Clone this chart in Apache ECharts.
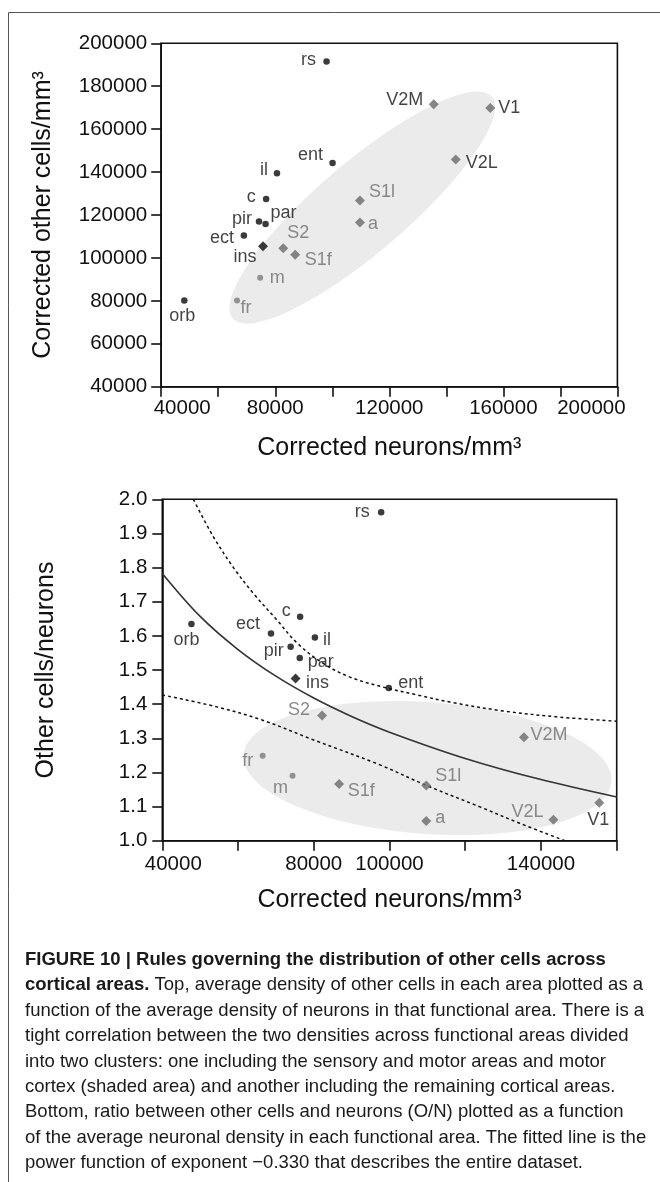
<!DOCTYPE html>
<html><head><meta charset="utf-8">
<script src="https://cdn.jsdelivr.net/npm/echarts@6/dist/echarts.min.js"></script>
<style>html,body{margin:0;padding:0;background:#fff;} #chart{width:660px;height:1182px;}</style>
</head><body><div id="chart"></div>
<script>
// ---------- data ----------
const areas = ['rs','V2M','V1','V2L','ent','il','c','S1l','a','pir','par','ect','ins','S2','S1f','m','fr','orb'];
// top panel: corrected neurons/mm3 vs corrected other cells/mm3
const topNeurons = [98000,135600,155400,143300,100100,80600,76800,109700,109700,74300,76600,69000,75700,82800,87000,74700,66600,48100];
const topOthers  = [191500,171600,169800,145900,144200,139400,127400,126800,116500,117000,115800,110400,105400,104500,101500,90800,80200,80200];
// bottom panel: corrected neurons/mm3 vs other cells/neurons
const bottomNeurons = [97800,135500,155400,143300,99800,80300,76400,109700,109700,73900,76300,68700,75200,82200,86700,74400,66500,47700];
const bottomRatio   = [1.962,1.303,1.111,1.061,1.447,1.595,1.656,1.162,1.058,1.568,1.535,1.607,1.475,1.367,1.166,1.190,1.249,1.635];
// fitted power curve (solid)
const fitX = [40000,50000,60000,70000,80000,90000,100000,120000,140000,160000];
const fitY = [1.783,1.657,1.560,1.482,1.418,1.364,1.318,1.241,1.179,1.128];
// upper dashed curve
const upperX = [48200,53500,58800,64000,70300,75600,82400,89600,98300,107300,116000,130000,145000,160000];
const upperY = [2.000,1.890,1.800,1.725,1.646,1.579,1.520,1.479,1.450,1.427,1.406,1.380,1.362,1.350];
// lower dashed curve
const lowerX = [40000,54400,66500,80000,97500,109700,123900,134400,146300];
const lowerY = [1.427,1.392,1.353,1.295,1.222,1.162,1.099,1.051,1.000];
// shaded clusters (centre, end of major axis, end of minor axis) in data units
const topEllipse = {center:[110526,123486], major:[155965,175117], minor:[120772,107549]};
const bottomEllipse = {center:[110034,1.2127], major:[158625,1.1740], minor:[108793,1.0202]};
// tick labels
const topXTickLabels = [40000,80000,120000,160000,200000];
const bottomXTickLabels = [40000,80000,100000,140000];

// ---------- styles ----------
const FONT = '"Liberation Sans", Arial, Helvetica, sans-serif';
const markerKind = {rs:'bc',ent:'bc',il:'bc',c:'bc',pir:'bc',par:'bc',ect:'bc',orb:'bc',
  ins:'bd', V2M:'gd',V1:'gd',V2L:'gd',S1l:'gd',a:'gd',S2:'gd',S1f:'gd', m:'gc',fr:'gc'};
const markerStyles = {
  bc:{symbol:'circle', size:6.5, color:'#0a0a0a'},
  bd:{symbol:'diamond', size:10, color:'#0a0a0a'},
  gd:{symbol:'diamond', size:10, color:'#6a6a6a'},
  gc:{symbol:'circle', size:6, color:'#7a7a7a'}
};
const topLabelOffset = {rs:[-18,-2],V2M:[-29,-4],V1:[19,0],V2L:[26,4],ent:[-22,-8],il:[-13,-3],c:[-15,-2],
  S1l:[22,-8],a:[13,2],pir:[-17,-2],par:[18,-11],ect:[-22,2],ins:[-18,11],S2:[15,-15],S1f:[23,5],m:[17,0],fr:[9,8],orb:[-2,16]};
const bottomLabelOffset = {rs:[-19,0],c:[-14,-6],ect:[-23,-9],il:[12,2],pir:[-17,4],par:[21,4],ins:[22,4],orb:[-5,16],
  ent:[22,-5],S2:[-23,-5],V2M:[25,-2],fr:[-15,5],m:[-12,12],S1f:[22,7],S1l:[22,-9],a:[14,-3],V2L:[-26,-8],V1:[-1,17]};
const topGrayLabels = ['S1l','a','S2','S1f','m','fr'];
const bottomGrayLabels = ['S2','V2M','V2L','S1l','a','S1f','fr','m'];

function ellipseSeries(g, ell) {
  return {
    type:'custom', xAxisIndex:g, yAxisIndex:g, silent:true, z:1, data:[ell.center],
    renderItem: function (params, api) {
      const c = api.coord(ell.center), a = api.coord(ell.major), b = api.coord(ell.minor);
      const u = [a[0]-c[0], a[1]-c[1]], v = [b[0]-c[0], b[1]-c[1]];
      const pts = [];
      for (let i = 0; i < 120; i++) {
        const t = i / 120 * 2 * Math.PI;
        pts.push([c[0] + Math.cos(t)*u[0] + Math.sin(t)*v[0], c[1] + Math.cos(t)*u[1] + Math.sin(t)*v[1]]);
      }
      return {type:'polygon', shape:{points:pts}, style:{fill:'#ebebeb'}};
    }
  };
}

function scatterSeries(g, xs, ys, kind, offsets, grayLabels) {
  const st = markerStyles[kind];
  const data = [];
  areas.forEach((n, i) => {
    if (markerKind[n] !== kind) return;
    data.push({name:n, value:[xs[i], ys[i]],
      label:{offset:offsets[n], color: grayLabels.indexOf(n) >= 0 ? '#6e6e6e' : '#111'}});
  });
  return {type:'scatter', xAxisIndex:g, yAxisIndex:g, symbol:st.symbol, symbolSize:st.size,
    itemStyle:{color:st.color}, z:5, silent:true,
    label:{show:true, position:'inside', formatter:'{b}', fontSize:18, fontFamily:FONT},
    data};
}

function lineSeries(xs, ys, style) {
  return {type:'line', xAxisIndex:1, yAxisIndex:1, data: xs.map((x, i) => [x, ys[i]]),
    smooth:0.35, symbol:'none', silent:true, z:3, lineStyle:style};
}

const axisCommon = {
  axisLine:{show:true, onZero:false, lineStyle:{color:'#111', width:1.6}},
  axisTick:{show:true, length:10, lineStyle:{color:'#111', width:1.6}},
  splitLine:{show:false}
};
const tickFont = {fontSize:20.5, color:'#111', fontFamily:FONT};
const titleFont = {fontSize:25, color:'#111', fontFamily:FONT};

const captionLines = [
  '{b|FIGURE 10 | Rules governing the distribution of other cells across}',
  '{b|cortical areas.} Top, average density of other cells in each area plotted as a',
  'function of the average density of neurons in that functional area. There is a',
  'tight correlation between the two densities across functional areas divided',
  'into two clusters: one including the sensory and motor areas and motor',
  'cortex (shaded area) and another including the remaining cortical areas.',
  'Bottom, ratio between other cells and neurons (O/N) plotted as a function',
  'of the average neuronal density in each functional area. The fitted line is the',
  'power function of exponent \u22120.330 that describes the entire dataset.'
];

const graphics = [
  {type:'line', shape:{x1:8.5, y1:12.5, x2:660, y2:12.5}, style:{stroke:'#555', lineWidth:1}},
  {type:'line', shape:{x1:8.5, y1:12.5, x2:8.5, y2:1182}, style:{stroke:'#555', lineWidth:1}}
];
captionLines.forEach((t, i) => {
  graphics.push({type:'text', x:25, y:960 + i*25.4, style:{text:t, fontSize:18.5, fontFamily:FONT, fill:'#1a1a1a',
    verticalAlign:'middle', rich:{b:{fontSize:18.5, fontFamily:FONT, fontWeight:'bold', fill:'#1a1a1a'}}}});
});

const option = {
  animation:false,
  backgroundColor:'#fff',
  textStyle:{fontFamily:FONT},
  grid:[
    {left:161.2, top:43.3, width:456.2, height:343.4, show:true, borderColor:'#111', borderWidth:1.6},
    {left:162.3, top:499.3, width:454.4, height:341.4, show:true, borderColor:'#111', borderWidth:1.6}
  ],
  xAxis:[
    Object.assign({gridIndex:0, type:'value', min:40000, max:200000, interval:20000,
      name:'Corrected neurons/mm\u00b3', nameLocation:'middle', nameGap:49, nameTextStyle:titleFont,
      axisLabel:Object.assign({margin:11, showMinLabel:true, showMaxLabel:true,
        formatter: v => topXTickLabels.indexOf(v) < 0 ? '' : (v === 40000 ? '{l|' + v + '}' : (v === 200000 ? '{r|' + v + '}' : String(v))),
        rich:{l:Object.assign({padding:[0,0,0,42]}, tickFont), r:Object.assign({padding:[0,52,0,0]}, tickFont)}}, tickFont)}, axisCommon),
    Object.assign({gridIndex:1, type:'value', min:40000, max:160000, interval:20000,
      name:'Corrected neurons/mm\u00b3', nameLocation:'middle', nameGap:47, nameTextStyle:titleFont,
      axisLabel:Object.assign({margin:13, showMinLabel:true, showMaxLabel:true,
        formatter: v => bottomXTickLabels.indexOf(v) < 0 ? '' : (v === 40000 ? '{l|' + v + '}' : String(v)),
        rich:{l:Object.assign({padding:[0,0,0,22]}, tickFont)}}, tickFont)}, axisCommon)
  ],
  yAxis:[
    Object.assign({gridIndex:0, type:'value', min:40000, max:200000, interval:20000,
      name:'Corrected other cells/mm\u00b3', nameLocation:'middle', nameGap:106, nameRotate:90, nameTextStyle:titleFont,
      axisLabel:Object.assign({margin:14, formatter: v => String(v)}, tickFont)}, axisCommon),
    Object.assign({gridIndex:1, type:'value', min:1.0, max:2.0, interval:0.1,
      name:'Other cells/neurons', nameLocation:'middle', nameGap:104, nameRotate:90, nameTextStyle:titleFont,
      axisLabel:Object.assign({margin:15, formatter: v => v.toFixed(1)}, tickFont)}, axisCommon)
  ],
  graphic:graphics,
  series:[
    ellipseSeries(0, topEllipse),
    ellipseSeries(1, bottomEllipse),
    lineSeries(fitX, fitY, {color:'#333', width:1.6}),
    lineSeries(upperX, upperY, {color:'#111', width:1.5, type:[3,3]}),
    lineSeries(lowerX, lowerY, {color:'#111', width:1.5, type:[3,3]}),
    scatterSeries(0, topNeurons, topOthers, 'bc', topLabelOffset, topGrayLabels),
    scatterSeries(0, topNeurons, topOthers, 'bd', topLabelOffset, topGrayLabels),
    scatterSeries(0, topNeurons, topOthers, 'gd', topLabelOffset, topGrayLabels),
    scatterSeries(0, topNeurons, topOthers, 'gc', topLabelOffset, topGrayLabels),
    scatterSeries(1, bottomNeurons, bottomRatio, 'bc', bottomLabelOffset, bottomGrayLabels),
    scatterSeries(1, bottomNeurons, bottomRatio, 'bd', bottomLabelOffset, bottomGrayLabels),
    scatterSeries(1, bottomNeurons, bottomRatio, 'gd', bottomLabelOffset, bottomGrayLabels),
    scatterSeries(1, bottomNeurons, bottomRatio, 'gc', bottomLabelOffset, bottomGrayLabels)
  ]
};
const chart = echarts.init(document.getElementById('chart'), null, {renderer:'canvas'});
chart.setOption(option);
</script>
</body></html>
